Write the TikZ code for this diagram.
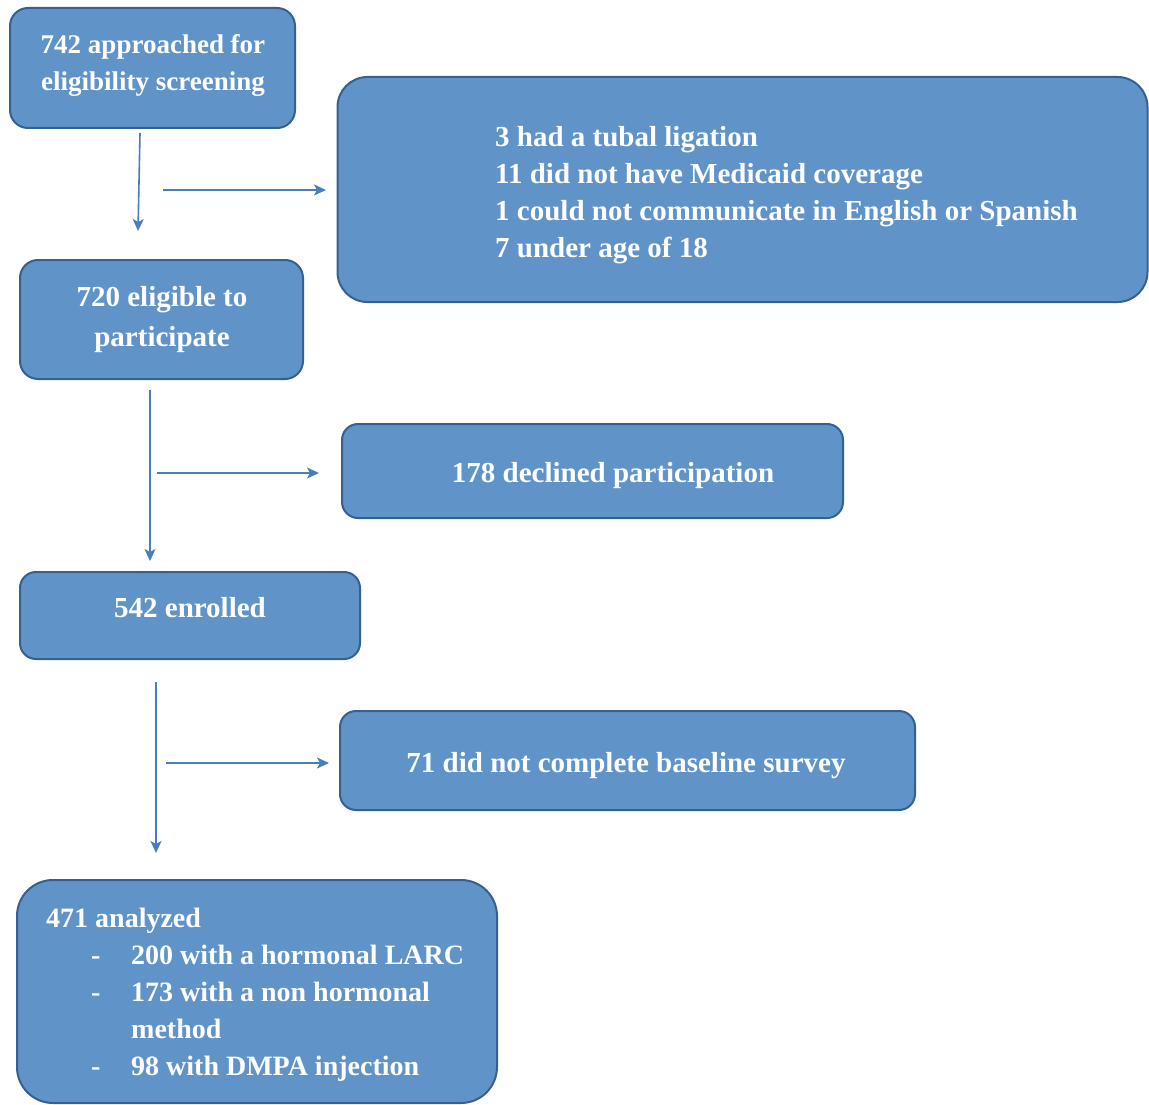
\documentclass[tikz,border=0pt]{standalone}
\usepackage{fontspec}
\setmainfont{Liberation Serif}
\usetikzlibrary{arrows.meta}
\definecolor{boxfill}{RGB}{96,148,201}
\definecolor{boxline}{RGB}{52,96,146}
\definecolor{arrowc}{RGB}{72,126,192}
\tikzset{
  flowbox/.style={draw=boxline, line width=2pt, fill=boxfill, rectangle, inner sep=0pt},
  boxtext/.style={text=white, font=\bfseries\fontsize{29}{37}\selectfont, inner sep=0pt},
  flowarrow/.style={draw=arrowc, line width=1.6pt, -{Stealth[length=12pt,width=11pt,inset=3pt]}}
}
\begin{document}
\begin{tikzpicture}[x=1pt,y=-1pt]
\useasboundingbox (0,0) rectangle (1149,1105);
% boxes
\node[flowbox, rounded corners=18pt, minimum width=285pt, minimum height=120pt] (A) at (152.5,68) {};
\node[flowbox, rounded corners=30pt, minimum width=810pt, minimum height=225pt] (B) at (742.5,189.5) {};
\node[flowbox, rounded corners=18pt, minimum width=283pt, minimum height=119pt] (C) at (161.5,319.5) {};
\node[flowbox, rounded corners=16pt, minimum width=501pt, minimum height=94pt] (D) at (592.5,471) {};
\node[flowbox, rounded corners=16pt, minimum width=340pt, minimum height=87pt] (E) at (190,615.5) {};
\node[flowbox, rounded corners=16pt, minimum width=575pt, minimum height=99pt] (F) at (627.5,760.5) {};
\node[flowbox, rounded corners=36pt, minimum width=480pt, minimum height=223pt] (G) at (257,991.5) {};
% texts
\node[boxtext, align=center, font=\bfseries\fontsize{27}{37}\selectfont] (At) at (153,65) {742 approached for\\eligibility screening};
\node[boxtext, align=left, anchor=west] (Bt) at (495,195.5) {3 had a tubal ligation\\11 did not have Medicaid coverage\\1 could not communicate in English or Spanish\\7 under age of 18};
\node[boxtext, align=center, font=\bfseries\fontsize{29}{40}\selectfont] (Ct) at (162,320) {720 eligible to\\participate};
\node[boxtext] (Dt) at (613,476) {178 declined participation};
\node[boxtext] (Et) at (190,608) {542 enrolled};
\node[boxtext] (Ft) at (626,766) {71 did not complete baseline survey};
\node[boxtext, align=left, anchor=west, font=\bfseries\fontsize{28}{37}\selectfont] (Gt) at (46,995) {471 analyzed\\
\makebox[85pt][l]{\hspace*{45pt}-}200 with a hormonal LARC\\
\makebox[85pt][l]{\hspace*{45pt}-}173 with a non hormonal\\
\makebox[85pt][l]{}method\\
\makebox[85pt][l]{\hspace*{45pt}-}98 with DMPA injection};
% arrow end points
\coordinate (a1s) at (140,133); \coordinate (a1e) at (138,231);
\coordinate (h1s) at (163,190); \coordinate (h1e) at (326,190);
\coordinate (a2s) at (150,390); \coordinate (a2e) at (150,561);
\coordinate (h2s) at (157,473); \coordinate (h2e) at (319,473);
\coordinate (a3s) at (156,682); \coordinate (a3e) at (156,853);
\coordinate (h3s) at (166,763); \coordinate (h3e) at (329,763);
\draw[flowarrow] (a1s) -- (a1e);
\draw[flowarrow] (h1s) -- (h1e);
\draw[flowarrow] (a2s) -- (a2e);
\draw[flowarrow] (h2s) -- (h2e);
\draw[flowarrow] (a3s) -- (a3e);
\draw[flowarrow] (h3s) -- (h3e);
\end{tikzpicture}
\end{document}
